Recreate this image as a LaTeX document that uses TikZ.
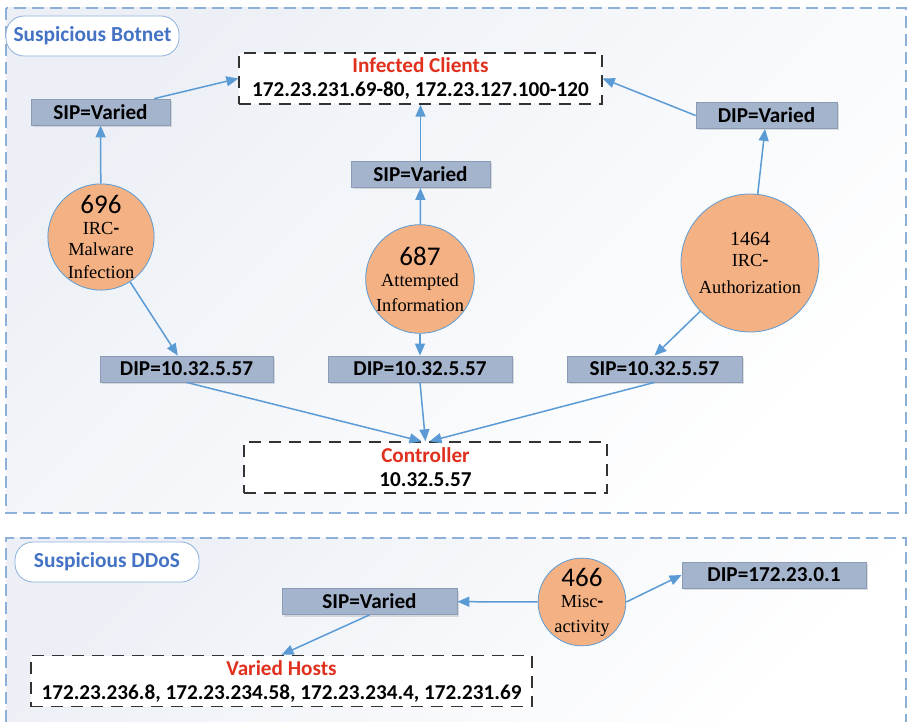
\documentclass[tikz,border=0pt]{standalone}
\usepackage{fontspec}
\setmainfont{Carlito}
\newfontfamily\timesfont{Liberation Serif}
\usetikzlibrary{arrows.meta, positioning, shadows}
\definecolor{frameblue}{HTML}{8DB0DB}
\definecolor{bgblue}{HTML}{ECF0F6}
\definecolor{tagblue}{HTML}{4472C4}
\definecolor{boxfill}{HTML}{A5B4CD}
\definecolor{boxline}{HTML}{8A9BB5}
\definecolor{circfill}{HTML}{F4B183}
\definecolor{flowblue}{HTML}{5B9BD5}
\definecolor{alertred}{HTML}{E0301E}
\tikzset{
  framefill/.style={top color=bgblue, bottom color=white, shading angle=45, draw=none},
  frameline/.style={draw=frameblue, dash pattern=on 6pt off 3pt, line width=0.7pt},
  tag/.style={draw=frameblue, rounded corners=9pt, fill=white, text=tagblue, font=\fontsize{10.7}{12}\selectfont\bfseries, inner sep=0pt, minimum height=20pt},
  ipbox/.style={draw=boxline, fill=boxfill, font=\fontsize{10.6}{12}\selectfont\bfseries, inner sep=0pt, minimum height=13pt, drop shadow={shadow xshift=1pt, shadow yshift=-1pt, opacity=0.25}},
  hostbox/.style={draw=black!80, dash pattern=on 6pt off 4pt, line width=0.7pt, fill=white, align=center, font=\fontsize{10.6}{12}\selectfont\bfseries, inner sep=0pt, minimum height=25.5pt},
  event/.style={circle, draw=flowblue, fill=circfill, inner sep=0pt, align=center, font=\timesfont\fontsize{9.2}{10.5}\selectfont},
  flow/.style={-{Triangle[length=6pt, width=5pt]}, draw=flowblue, line width=0.75pt}
}
\newcommand{\evnum}[1]{{\normalfont\fontsize{13.5}{14}\selectfont #1}}
\newcommand{\alert}[1]{\textcolor{alertred}{#1}}

\begin{document}
\begin{tikzpicture}[x=0.5pt, y=-0.5pt]
\useasboundingbox (0,0) rectangle (907,722);

\path[framefill] (6,8) rectangle (906,513);
\draw[frameline] (6,8) rectangle (906,513);
\path[framefill] (6,538) rectangle (906,722);
\draw[frameline] (6,722) -- (6,538) -- (906,538) -- (906,722);

\node[tag, minimum width=86.5pt] (botnetTag) at (92.5,36) {Suspicious Botnet};
\node[tag, minimum width=92pt] (ddosTag) at (107,562) {Suspicious DDoS};

\node[hostbox, minimum width=181.5pt] (clients) at (420.5,78.5) {\alert{Infected Clients}\\172.23.231.69-80, 172.23.127.100-120};
\node[hostbox, minimum width=181.5pt] (ctrl) at (425.5,467.5) {\alert{Controller}\\10.32.5.57};
\node[hostbox, minimum width=250.5pt] (hosts) at (281.5,681) {\alert{Varied Hosts}\\172.23.236.8, 172.23.234.58, 172.23.234.4, 172.231.69};

\node[ipbox, minimum width=69.5pt] (sipA) at (100.5,112) {SIP=Varied};
\node[ipbox, minimum width=69.5pt] (sipB) at (420.5,174.5) {SIP=Varied};
\node[ipbox, minimum width=70.5pt] (dipA) at (766.5,115.5) {DIP=Varied};

\node[event, minimum size=53pt] (c696) at (101,237) {\evnum{696}\\IRC{\normalfont\bfseries-}\\Malware\\[1pt]Infection};
\node[event, minimum size=52pt] (c687) at (420,279) {\evnum{687}\\Attempted\\[2pt]Information};
\node[event, minimum size=69pt] (c1464) at (750,263) {{\fontsize{10}{11}\selectfont 1464}\\IRC{\normalfont\bfseries-}\\[3pt]Authorization};

\node[ipbox, minimum width=86.5pt] (dipC1) at (186.5,369) {DIP=10.32.5.57};
\node[ipbox, minimum width=92pt] (dipC2) at (420,369) {DIP=10.32.5.57};
\node[ipbox, minimum width=87.5pt] (sipC) at (654.5,369) {SIP=10.32.5.57};

\node[ipbox, minimum width=87.5pt] (ddosSip) at (369.5,601.5) {SIP=Varied};
\node[event, minimum size=41pt] (c466) at (582,602) {\evnum{466}\\Misc{\normalfont\bfseries-}\\[2pt]activity};
\node[ipbox, minimum width=92pt] (ddosDip) at (774,575) {DIP=172.23.0.1};

\draw[flow] (c696) -- (sipA);
\draw[flow] (sipA.14) -- (clients.west);
\draw[flow] (c687) -- (sipB);
\draw[flow] (sipB) -- (clients);
\draw[flow] (c1464) -- (dipA);
\draw[flow] (dipA.west) -- (clients.east);

\draw[flow] (c696) -- (dipC1);
\draw[flow] (c687) -- (dipC2);
\draw[flow] (c1464) -- (sipC.north);
\draw[flow] (dipC1.south) -- ([xshift=-2pt]ctrl.north);
\draw[flow] (dipC2.south) -- (ctrl.north);
\draw[flow] (sipC.south) -- ([xshift=2pt]ctrl.north);

\draw[flow] (c466) -- (ddosSip);
\draw[flow] (c466.east) -- (ddosDip.west);
\draw[flow] (ddosSip.south) -- (hosts.north);

\end{tikzpicture}
\end{document}
